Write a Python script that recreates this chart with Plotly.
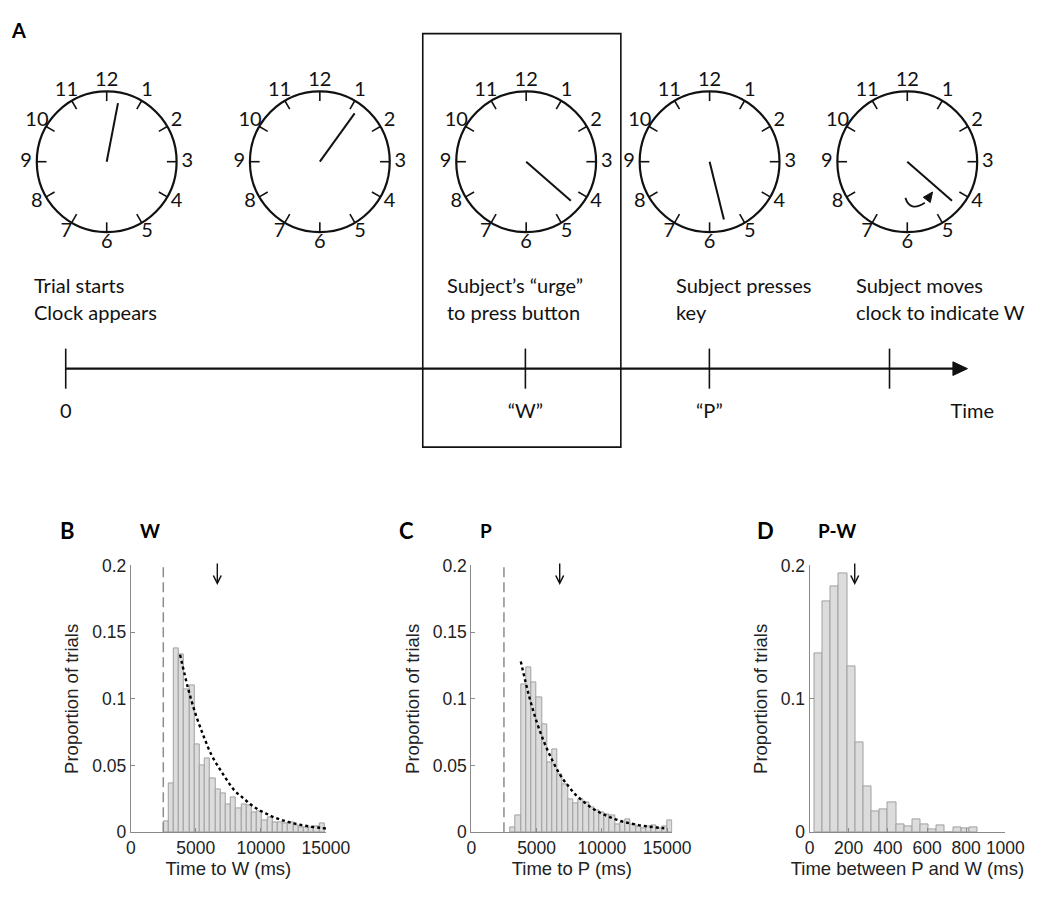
import math
import plotly.graph_objects as go

W, H = 1050, 906          # target page size (reference pixels)
OX, OY = 8, 8             # default page margin of the browser body
FW, FH = W - 2 * OX, H - 2 * OY   # figure size that fits the page without overflow

# ---------------- data ----------------
clock_numbers = ["12", "1", "2", "3", "4", "5", "6", "7", "8", "9", "10", "11"]
clock_hand_deg = [11, 36, 131, 166, 131]          # hand direction, degrees clockwise from 12
caption_line1 = ["Trial starts", "", "Subject’s “urge”", "Subject presses", "Subject moves"]
caption_line2 = ["Clock appears", "", "to press button", "key", "clock to indicate W"]
timeline_labels = ["0", "“W”", "“P”", ""]
timeline_end_label = "Time"

# Panel B: time to W
b_bin_start, b_bin_width = 2500, 400
b_props = [0.008, 0.037, 0.138, 0.133, 0.107, 0.110, 0.066, 0.050, 0.055, 0.040,
           0.032, 0.029, 0.021, 0.026, 0.018, 0.021, 0.020, 0.015, 0.016, 0.009,
           0.011, 0.0075, 0.0075, 0.007, 0.0075, 0.0055, 0.004, 0.0035, 0.004, 0.0045,
           0.0068]
b_fit_x = [3790, 4400, 5000, 5600, 6200, 6800, 7400, 8000, 8600, 9200, 9800, 10400,
           11000, 11600, 12200, 12800, 13400, 14000, 14600, 15000]
b_fit_y = [0.133, 0.108, 0.088, 0.072, 0.058, 0.048, 0.039, 0.031, 0.026, 0.021, 0.017,
           0.014, 0.0113, 0.0092, 0.0075, 0.0061, 0.0049, 0.0040, 0.0033, 0.0028]
b_onset = 2500
b_mean = 6650

# Panel C: time to P
c_bin_start, c_bin_width = 3000, 400
c_props = [0.004, 0.0125, 0.111, 0.1236, 0.1126, 0.101, 0.0806, 0.052, 0.0618, 0.0435,
           0.036, 0.025, 0.0215, 0.025, 0.0227, 0.019, 0.0162, 0.0150, 0.0137, 0.013,
           0.0056, 0.0073, 0.0093, 0.0056, 0.0044, 0.0032, 0.0044, 0.0049, 0.0032, 0.0044,
           0.0088]
c_fit_x = [3790, 4400, 5000, 5600, 6200, 6800, 7400, 8000, 8600, 9200, 9800, 10400,
           11000, 11600, 12200, 12800, 13400, 14000, 14600, 15000]
c_fit_y = [0.128, 0.103, 0.083, 0.067, 0.054, 0.043, 0.035, 0.028, 0.023, 0.0185, 0.015,
           0.0122, 0.0099, 0.008, 0.0066, 0.0054, 0.0045, 0.0038, 0.0032, 0.0029]
c_onset = 2500
c_mean = 6770

# Panel D: P - W
d_bin_start, d_bin_width = 25, 41.67
d_props = [0.134, 0.173, 0.184, 0.194, 0.124, 0.067, 0.0345, 0.0155, 0.017, 0.0227,
           0.0058, 0.0042, 0.0093, 0.006, 0.0018, 0.005, 0.0, 0.0034, 0.0027, 0.0035]
d_mean = 231

time_ticks = [0, 5000, 10000, 15000]
time_ticktext = ["0", "5000", "10000", "15000"]
pw_ticks = [0, 200, 400, 600, 800, 1000]
pw_ticktext = ["0", "200", "400", "600", "800", "1000"]
prop_ticks_bc = [0, 0.05, 0.1, 0.15, 0.2]
prop_ticktext_bc = ["0", "0.05", "0.1", "0.15", "0.2"]
prop_ticks_d = [0, 0.1, 0.2]
prop_ticktext_d = ["0", "0.1", "0.2"]

# ---------------- layout constants (reference pixels) ----------------
clock_cx = [104.5, 324.0, 536.5, 725.4, 929.0]
clock_cy = 155.0
clock_r = 72.0
hand_len = 61.0
label_r = 83.0
tick_len = 10.0
caption_x = [27.5, 0, 453.0, 688.5, 874.0]
caption_y = [281.0, 309.0]
tl_y = 366.7
tl_x0, tl_tip = 62.3, 991.0
event_x = [62.3, 535.7, 725.2, 910.7]
event_label_y = 411.7
box = (430.0, 24.0, 634.0, 447.0)

sans_a = "Lato"
sans_h = "Liberation Sans"
ink = "#111111"
axis_grey = "#8a8a8a"

fig = go.Figure()


def px(x):
    return (x - OX) / FW


def py(y):
    return 1 - (y - OY) / FH


# ---------------- Panel A (schematic on a pixel-scaled overlay axis) ----------------
def pol(cx, cy, r, deg):
    a = math.radians(deg)
    return cx + r * math.sin(a), cy - r * math.cos(a)


shapes = []
tick_x, tick_y, hand_x, hand_y = [], [], [], []
num_x, num_y, num_t = [], [], []
for i, cx in enumerate(clock_cx):
    shapes.append(dict(type="circle", xref="x4", yref="y4", x0=cx - clock_r, x1=cx + clock_r,
                       y0=clock_cy - clock_r, y1=clock_cy + clock_r,
                       line=dict(color=ink, width=2.2)))
    for k, lab in enumerate(clock_numbers):
        deg = 30 * k
        xo, yo = pol(cx, clock_cy, clock_r, deg)
        xi, yi = pol(cx, clock_cy, clock_r - tick_len, deg)
        tick_x += [xo, xi, None]
        tick_y += [yo, yi, None]
        xl, yl = pol(cx, clock_cy, label_r, deg)
        num_x.append(xl)
        num_y.append(yl)
        num_t.append(lab)
    xe, ye = pol(cx, clock_cy, hand_len, clock_hand_deg[i])
    hand_x += [cx, xe, None]
    hand_y += [clock_cy, ye, None]

fig.add_trace(go.Scatter(x=tick_x, y=tick_y, mode="lines", line=dict(color=ink, width=1.6),
                         xaxis="x4", yaxis="y4", hoverinfo="skip", showlegend=False))
fig.add_trace(go.Scatter(x=hand_x, y=hand_y, mode="lines", line=dict(color=ink, width=2),
                         xaxis="x4", yaxis="y4", hoverinfo="skip", showlegend=False))
fig.add_trace(go.Scatter(x=num_x, y=num_y, mode="text", text=num_t, textposition="middle center",
                         textfont=dict(family=sans_a, size=20, color=ink),
                         xaxis="x4", yaxis="y4", hoverinfo="skip", showlegend=False))

# curved arrow inside the last clock
c5 = clock_cx[4]
shapes.append(dict(type="path", xref="x4", yref="y4",
                   path=f"M {c5-2},{clock_cy+37} Q {c5+3},{clock_cy+52} {c5+18},{clock_cy+42}",
                   line=dict(color=ink, width=1.8)))
shapes.append(dict(type="path", xref="x4", yref="y4",
                   path=f"M {c5+26},{clock_cy+31} L {c5+16.5},{clock_cy+36.4} L {c5+23.7},{clock_cy+41.8} Z",
                   fillcolor=ink, line=dict(color=ink, width=1)))

# highlight box
shapes.append(dict(type="rect", xref="x4", yref="y4", x0=box[0], y0=box[1], x1=box[2], y1=box[3],
                   line=dict(color=ink, width=1.6)))

# timeline
fig.add_trace(go.Scatter(x=[tl_x0, tl_tip - 12], y=[tl_y, tl_y], mode="lines",
                         line=dict(color=ink, width=2.2), xaxis="x4", yaxis="y4",
                         hoverinfo="skip", showlegend=False))
shapes.append(dict(type="path", xref="x4", yref="y4",
                   path=f"M {tl_tip-15},{tl_y-7} L {tl_tip},{tl_y} L {tl_tip-15},{tl_y+7} Z",
                   fillcolor=ink, line=dict(color=ink, width=1)))
ev_x, ev_y = [], []
for ex in event_x:
    ev_x += [ex, ex, None]
    ev_y += [tl_y - 20.5, tl_y + 20.5, None]
fig.add_trace(go.Scatter(x=ev_x, y=ev_y, mode="lines", line=dict(color=ink, width=1.6),
                         xaxis="x4", yaxis="y4", hoverinfo="skip", showlegend=False))
fig.add_trace(go.Scatter(x=event_x + [996.0], y=[event_label_y] * 5,
                         text=timeline_labels + [timeline_end_label], mode="text",
                         textposition="middle center",
                         textfont=dict(family=sans_a, size=20, color=ink),
                         xaxis="x4", yaxis="y4", hoverinfo="skip", showlegend=False))

annotations = []
for i in range(5):
    for line, yy in zip((caption_line1[i], caption_line2[i]), caption_y):
        if line:
            annotations.append(dict(xref="x4", yref="y4", x=caption_x[i], y=yy, text=line,
                                    showarrow=False, xanchor="left", yanchor="middle",
                                    font=dict(family=sans_a, size=20, color=ink)))

# panel letters / titles
for txt, x, y, size in [("A", 14, 20.7, 20), ("B", 64, 532.7, 22), ("C", 413.3, 532.7, 22),
                        ("D", 783.3, 532.7, 22), ("W", 149, 532.7, 19), ("P", 495, 532.7, 19),
                        ("P-W", 856.7, 532.7, 19)]:
    annotations.append(dict(xref="paper", yref="paper", x=px(x), y=py(y), text=f"<b>{txt}</b>",
                            showarrow=False, xanchor="center", yanchor="middle",
                            font=dict(family=sans_a, size=size, color="#000")))

# ---------------- histograms ----------------
bar_fill = "#dcdcdc"
bar_edge = "#a0a0a0"


def centers(start, width, n):
    return [start + width * (i + 0.5) for i in range(n)]


panels = [
    dict(ax="", start=b_bin_start, width=b_bin_width, props=b_props, fit=(b_fit_x, b_fit_y),
         onset=b_onset, mean=b_mean),
    dict(ax="2", start=c_bin_start, width=c_bin_width, props=c_props, fit=(c_fit_x, c_fit_y),
         onset=c_onset, mean=c_mean),
    dict(ax="3", start=d_bin_start, width=d_bin_width, props=d_props, fit=None,
         onset=None, mean=d_mean),
]
for p in panels:
    xa, ya = "x" + p["ax"], "y" + p["ax"]
    n = len(p["props"])
    fig.add_trace(go.Bar(x=centers(p["start"], p["width"], n), y=p["props"], width=p["width"],
                         marker=dict(color=bar_fill, line=dict(color=bar_edge, width=1)),
                         xaxis=xa, yaxis=ya, showlegend=False, hoverinfo="skip"))
    if p["onset"] is not None:
        fig.add_trace(go.Scatter(x=[p["onset"], p["onset"]], y=[0, 0.2], mode="lines",
                                 line=dict(color="#8c8c8c", width=1.5, dash="10px,5px"),
                                 xaxis=xa, yaxis=ya, showlegend=False, hoverinfo="skip"))
    if p["fit"] is not None:
        fig.add_trace(go.Scatter(x=p["fit"][0], y=p["fit"][1], mode="lines", line_shape="spline",
                                 line=dict(color="#000", width=2.4, dash="3px,3px"),
                                 xaxis=xa, yaxis=ya, showlegend=False, hoverinfo="skip"))
    annotations.append(dict(xref=xa, yref=ya, axref=xa, ayref=ya, x=p["mean"], y=0.1853,
                            ax=p["mean"], ay=0.2025, text="", showarrow=True, arrowhead=5,
                            arrowsize=1.1, arrowwidth=1.4, arrowcolor="#111"))

y_dom = [py(841), py(568)]
tick_font = dict(family=sans_h, size=17.5, color="#222")
title_font = dict(family=sans_h, size=18.5, color="#222")


def xaxis_cfg(x0, x1, rng, tv, tt, title):
    return dict(domain=[px(x0), px(x1)], range=rng, tickvals=tv, ticktext=tt,
                showline=True, linecolor=axis_grey, linewidth=1, ticks="inside", ticklen=4,
                tickcolor=axis_grey, showgrid=False, zeroline=False, tickfont=tick_font,
                title=dict(text=title, font=title_font, standoff=4), fixedrange=True)


def yaxis_cfg(tv, tt, anchor):
    return dict(domain=y_dom, range=[0, 0.2], tickvals=tv, ticktext=tt, anchor=anchor,
                showline=True, linecolor=axis_grey, linewidth=1, ticks="inside", ticklen=4,
                tickcolor=axis_grey, showgrid=False, zeroline=False, tickfont=tick_font,
                title=dict(text="Proportion of trials", font=title_font, standoff=8),
                fixedrange=True)


fig.update_layout(
    width=FW, height=FH, margin=dict(l=0, r=0, t=0, b=0), autosize=False,
    paper_bgcolor="white", plot_bgcolor="rgba(0,0,0,0)", bargap=0,
    xaxis=dict(xaxis_cfg(129.3, 330.3, [0, 15000], time_ticks, time_ticktext, "Time to W (ms)"),
               anchor="y"),
    yaxis=yaxis_cfg(prop_ticks_bc, prop_ticktext_bc, "x"),
    xaxis2=dict(xaxis_cfg(480, 687.1, [0, 15400], time_ticks, time_ticktext, "Time to P (ms)"),
                anchor="y2"),
    yaxis2=yaxis_cfg(prop_ticks_bc, prop_ticktext_bc, "x2"),
    xaxis3=dict(xaxis_cfg(828.3, 1030, [0, 1000], pw_ticks, pw_ticktext,
                          "Time between P and W (ms)"), anchor="y3"),
    yaxis3=yaxis_cfg(prop_ticks_d, prop_ticktext_d, "x3"),
    xaxis4=dict(domain=[0, 1], range=[OX, OX + FW], visible=False, anchor="y4", fixedrange=True),
    yaxis4=dict(domain=[0, 1], range=[OY + FH, OY], visible=False, anchor="x4", fixedrange=True),
    shapes=shapes, annotations=annotations,
)

post = "document.querySelectorAll('svg.main-svg').forEach(function(s){s.style.overflow='visible';});"
fig.write_html("out.html", config={"displayModeBar": False}, post_script=post)
